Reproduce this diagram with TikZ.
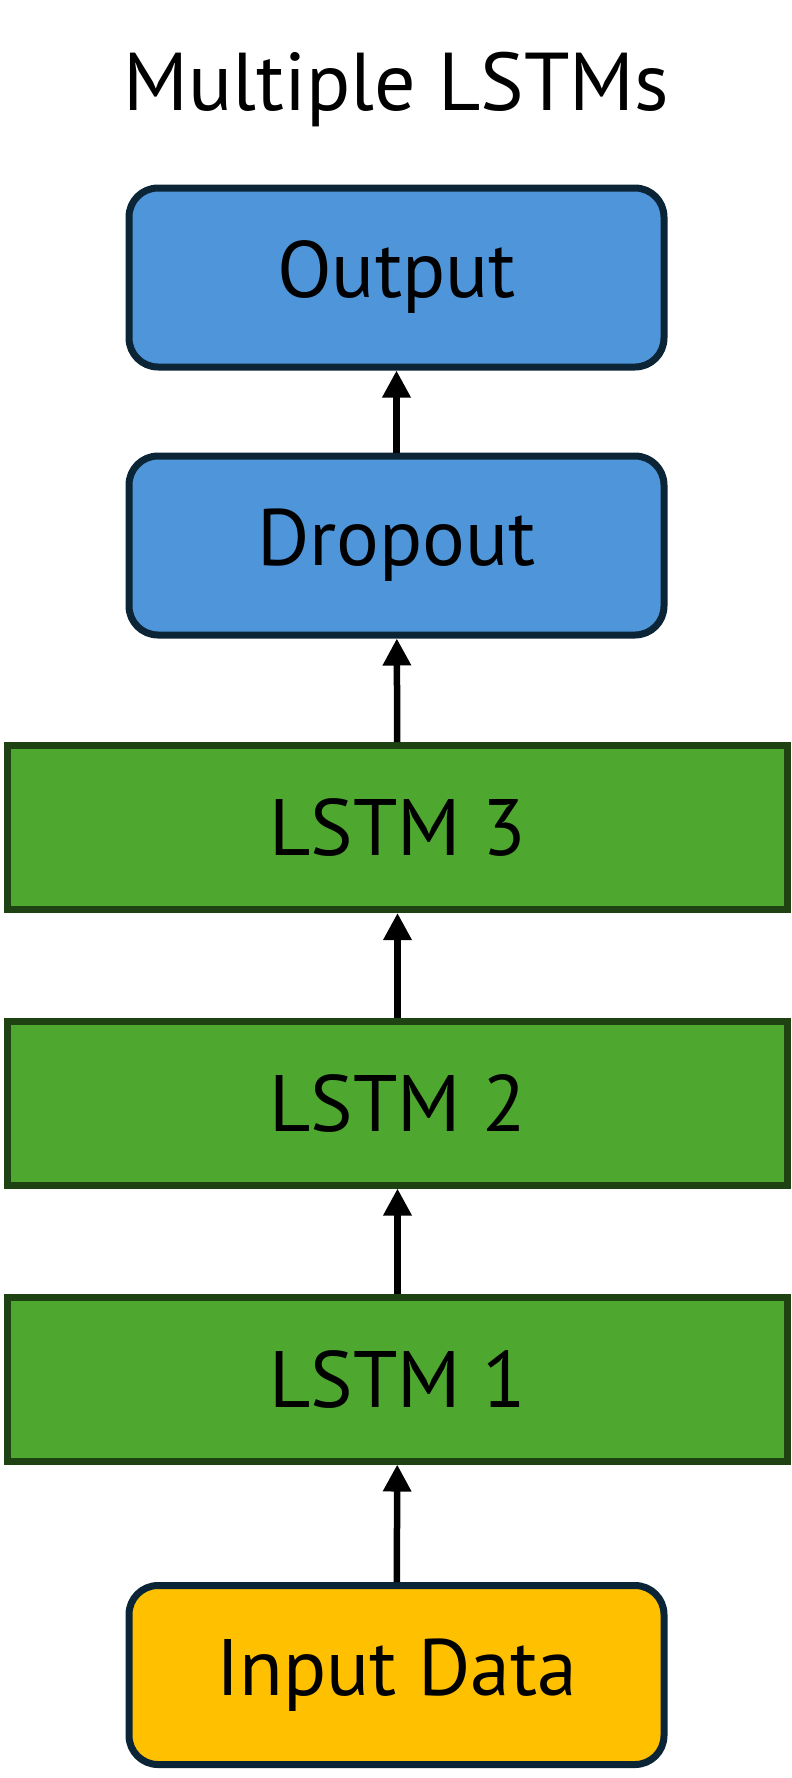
\documentclass[tikz,border=0pt]{standalone}
\usepackage{fontspec}
\setmainfont{PT Sans}
\usepackage{tikz}
\usetikzlibrary{arrows.meta}
\definecolor{cblue}{HTML}{4E95D9}
\definecolor{cgreen}{HTML}{4EA72E}
\definecolor{cyellow}{HTML}{FFC000}
\definecolor{cnavy}{HTML}{0B2436}
\definecolor{cdgreen}{HTML}{1E4212}

\begin{document}
\begin{tikzpicture}[x=1pt,y=-1pt,>={Triangle[length=27pt,width=27pt]},
  main node/.style={rectangle,rounded corners=29pt,draw=cnavy,line width=7pt,
    minimum width=535pt,minimum height=179pt,inner sep=0pt,font=\fontsize{80}{82}\selectfont},
  lstm node/.style={rectangle,fill=cgreen,draw=cdgreen,line width=7pt,
    minimum width=780pt,minimum height=164pt,inner sep=0pt,font=\fontsize{80}{82}\selectfont}]
  \useasboundingbox (0,0) rectangle (792,1778);
  \node[anchor=base,font=\fontsize{82}{86}\selectfont] (title) at (396.5,110) {Multiple LSTMs};
  \node[main node,fill=cblue] (out) at (396.5,277.5) {Output};
  \node[main node,fill=cblue] (drop) at (396.5,545.5) {Dropout};
  \node[lstm node] (l3) at (397.5,827.5) {LSTM 3};
  \node[lstm node] (l2) at (397.5,1103) {LSTM 2};
  \node[lstm node] (l1) at (397.5,1379) {LSTM 1};
  \node[main node,fill=cyellow] (in) at (396.5,1675) {Input Data};

  \path[->,line width=6.5pt]
    (in) edge (l1)
    (l1) edge (l2)
    (l2) edge (l3)
    (l3) edge (drop)
    (drop) edge (out);
\end{tikzpicture}
\end{document}
